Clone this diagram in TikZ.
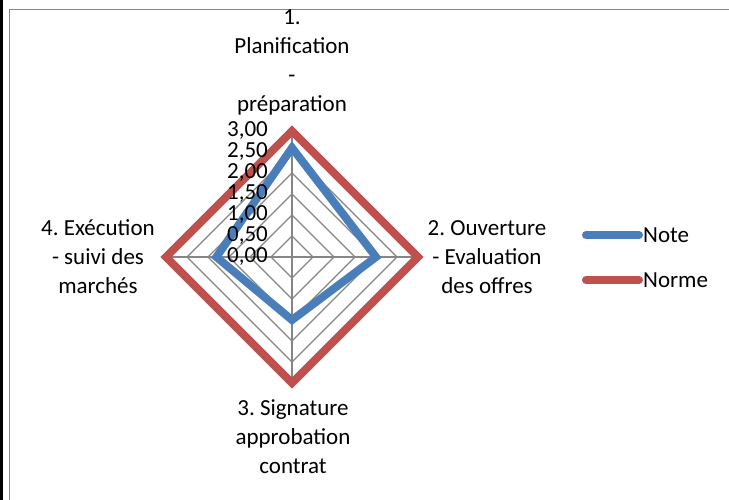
\documentclass[tikz,border=0pt]{standalone}
\usepackage{fontspec}
\setmainfont{Carlito}
\frenchspacing
\usetikzlibrary{positioning, calc}

\begin{document}
\begin{tikzpicture}[x=1pt, y=-1pt, font=\fontsize{23}{29}\selectfont,
        gridline/.style={draw=mygray, line width=1.4pt},
        serie/.style={line width=8pt},
        catlabel/.style={align=center, inner sep=0pt}]
    % Couleurs
    \definecolor{mygray}{RGB}{134, 134, 134}
    \definecolor{myblue}{RGB}{74, 126, 187}
    \definecolor{myred}{RGB}{192, 80, 77}

    % Cadre
    \useasboundingbox (0,0) rectangle (729,500);
    \fill[black] (0,0) rectangle (2.5,500);
    \draw[mygray, line width=1.5pt] (9.5,500) -- (9.5,9.5) -- (729,9.5);

    % 1. Grille (pas de 0,50 = 21 px)
    \coordinate (O) at (292,257);
    \foreach \k in {1,...,6} {
        \draw[gridline] (292,257-21*\k) -- (292+21*\k,257) -- (292,257+21*\k) -- (292-21*\k,257) -- cycle;
    }
    \draw[gridline] (292,131) -- (292,383);
    \draw[gridline] (166,257) -- (418,257);

    % 2. Series : Norme (3 partout) et Note
    \draw[serie, myred] (292,131) -- (418,257) -- (292,383) -- (166,257) -- cycle;
    \draw[serie, myblue] (292,147.8) -- (376,257) -- (292,320) -- (216.4,257) -- cycle;

    % 3. Graduations (par-dessus les series)
    \foreach \v [count=\k from 0] in {{0,00},{0,50},{1,00},{1,50},{2,00},{2,50},{3,00}} {
        \node[anchor=east, inner sep=0pt] (tick\k) at (268,257-21*\k) {\v};
    }

    % 4. Axes
    \node[catlabel] (cat1) at (292,62) {1.\\Planification\\-\\préparation};
    \node[catlabel] (cat2) at (487,257) {2. Ouverture\\- Evaluation\\des offres};
    \node[catlabel] (cat3) at (293,437) {3. Signature\\approbation\\contrat};
    \node[catlabel] (cat4) at (98,257) {4. Exécution\\- suivi des\\marchés};

    % 5. Legende
    \coordinate (leg1) at (586,235);
    \coordinate (leg2) at (586,280);
    \node[anchor=west, inner sep=0pt] (lblnote) at (643,235) {Note};
    \node[anchor=west, inner sep=0pt] (lblnorme) at (643,280) {Norme};
    \draw[myblue, line width=8pt, line cap=round, shorten >=4pt] (leg1) -- (lblnote.west);
    \draw[myred, line width=8pt, line cap=round, shorten >=4pt] (leg2) -- (lblnorme.west);
\end{tikzpicture}
\end{document}
